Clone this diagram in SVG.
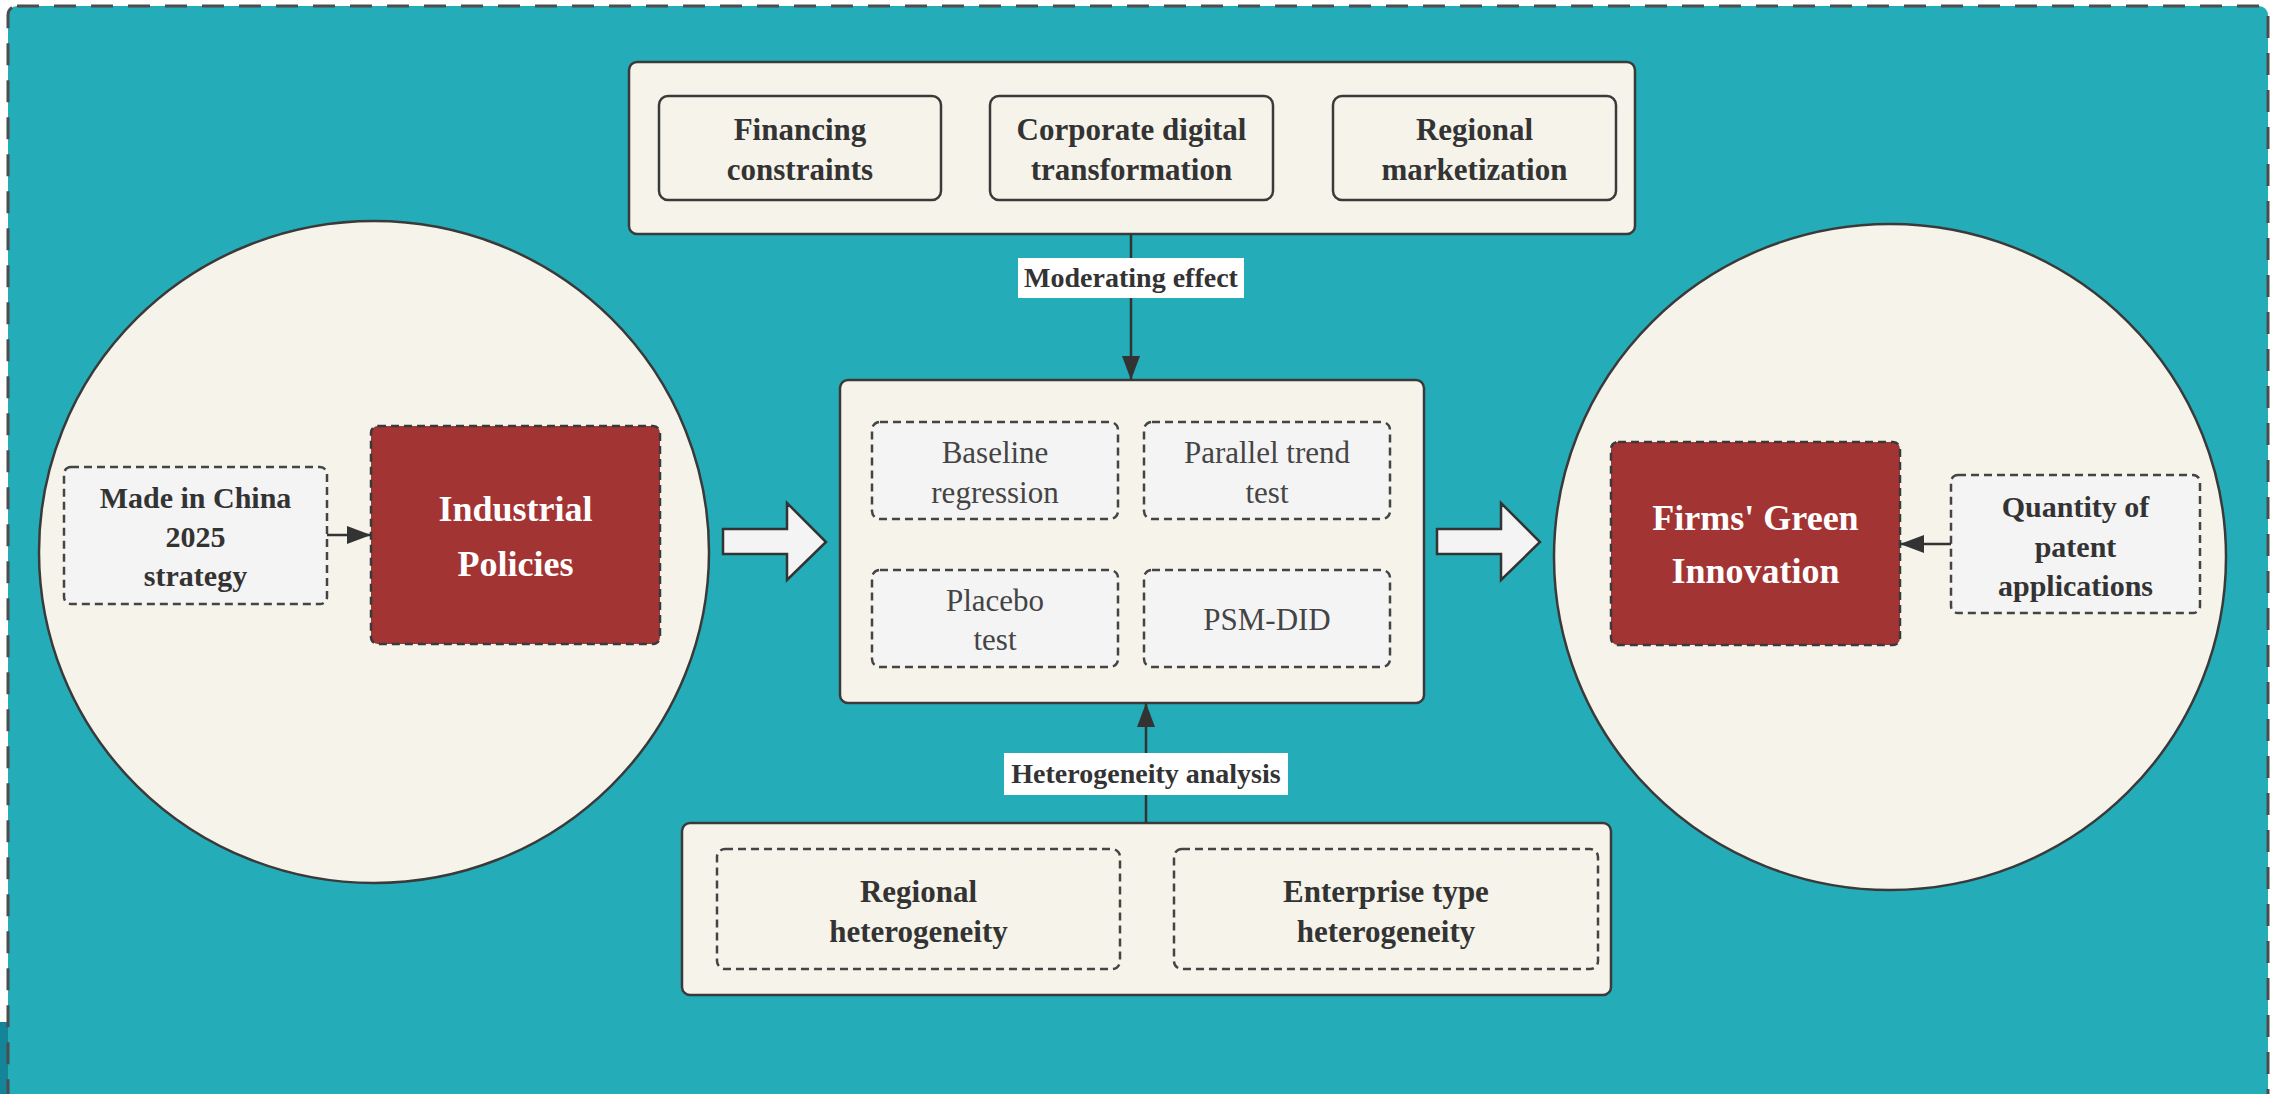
<svg xmlns="http://www.w3.org/2000/svg" width="2277" height="1094" viewBox="0 0 2277 1094">
<style>
.cream{fill:#f6f4ea;stroke:#3a3a3a;stroke-width:2.5}
.solid{fill:#f6f4ea;stroke:#3a3a3a;stroke-width:2.5}
.dgray{fill:#f4f4f4;stroke:#444;stroke-width:2.5;stroke-dasharray:8 5}
.dcream{fill:#f6f4ea;stroke:#444;stroke-width:2.5;stroke-dasharray:8 5}
.red{fill:#a33434;stroke:#3a3a3a;stroke-width:2.5;stroke-dasharray:8 5}
.t{font-family:"Liberation Serif","Times New Roman",serif;text-anchor:middle;fill:#333}
.b{font-weight:bold}
.w{fill:#ffffff;font-weight:bold;font-size:36px}
.f31{font-size:31px}
.f30{font-size:30px}
.f28{font-size:28px}
.reg{fill:#444;font-size:31px}
.conn{stroke:#333;stroke-width:2.5;fill:none}
.big{fill:#f4f4f4;stroke:#333;stroke-width:2.5;stroke-linejoin:miter}
</style>
<defs>
<marker id="ah" viewBox="0 0 24 18" refX="24" refY="9" markerWidth="24" markerHeight="18" markerUnits="userSpaceOnUse" orient="auto">
<path d="M0,0 L24,9 L0,18 Z" fill="#333"/>
</marker>
</defs>
<rect x="0" y="0" width="2277" height="1094" fill="#ffffff"/>
<rect x="0" y="1022" width="8" height="72" fill="#13849a"/>
<g id="frame">
<rect x="8" y="6" width="2260" height="1110" rx="9" fill="#24adb8" stroke="#4d4d4d" stroke-width="3" stroke-dasharray="22 15"/>
</g>

<g id="left-circle">
<ellipse cx="374" cy="552" rx="335" ry="331" class="cream"/>
</g>
<g id="right-circle">
<ellipse cx="1890" cy="557" rx="336" ry="333" class="cream"/>
</g>

<g id="moderators">
<rect x="629" y="62" width="1006" height="172" rx="8" class="solid"/>
<g id="financing">
<rect x="659" y="96" width="282" height="104" rx="9" class="solid"/>
<text class="t b f31" x="800" y="140">Financing</text>
<text class="t b f31" x="800" y="180">constraints</text>
</g>
<g id="digital">
<rect x="990" y="96" width="283" height="104" rx="9" class="solid"/>
<text class="t b f31" x="1131.5" y="140">Corporate digital</text>
<text class="t b f31" x="1131.5" y="180">transformation</text>
</g>
<g id="marketization">
<rect x="1333" y="96" width="283" height="104" rx="9" class="solid"/>
<text class="t b f31" x="1474.5" y="140">Regional</text>
<text class="t b f31" x="1474.5" y="180">marketization</text>
</g>
</g>

<g id="methods">
<rect x="840" y="380" width="584" height="323" rx="8" class="solid"/>
<g id="baseline">
<rect x="872" y="422" width="246" height="97" rx="8" class="dgray"/>
<text class="t reg" x="995" y="463">Baseline</text>
<text class="t reg" x="995" y="503">regression</text>
</g>
<g id="parallel">
<rect x="1144" y="422" width="246" height="97" rx="8" class="dgray"/>
<text class="t reg" x="1267" y="463">Parallel trend</text>
<text class="t reg" x="1267" y="503">test</text>
</g>
<g id="placebo">
<rect x="872" y="570" width="246" height="97" rx="8" class="dgray"/>
<text class="t reg" x="995" y="611">Placebo</text>
<text class="t reg" x="995" y="650">test</text>
</g>
<g id="psm">
<rect x="1144" y="570" width="246" height="97" rx="8" class="dgray"/>
<text class="t reg" x="1267" y="630">PSM-DID</text>
</g>
</g>

<g id="heterogeneity">
<rect x="682" y="823" width="929" height="172" rx="8" class="solid"/>
<g id="regional-het">
<rect x="717" y="849" width="403" height="120" rx="8" class="dcream"/>
<text class="t b f31" x="918.5" y="902">Regional</text>
<text class="t b f31" x="918.5" y="942">heterogeneity</text>
</g>
<g id="enterprise-het">
<rect x="1174" y="849" width="424" height="120" rx="8" class="dcream"/>
<text class="t b f31" x="1386" y="902">Enterprise type</text>
<text class="t b f31" x="1386" y="942">heterogeneity</text>
</g>
</g>

<g id="made-in-china">
<rect x="64" y="467" width="263" height="137" rx="7" class="dgray"/>
<text class="t b f30" x="195.5" y="508">Made in China</text>
<text class="t b f30" x="195.5" y="547">2025</text>
<text class="t b f30" x="195.5" y="586">strategy</text>
</g>
<g id="industrial-policies">
<rect x="371" y="426" width="289" height="218" rx="7" class="red"/>
<text class="t w" x="515.5" y="521">Industrial</text>
<text class="t w" x="515.5" y="576">Policies</text>
</g>
<g id="green-innovation">
<rect x="1611" y="442" width="289" height="203" rx="7" class="red"/>
<text class="t w" x="1755.5" y="530">Firms' Green</text>
<text class="t w" x="1755.5" y="583">Innovation</text>
</g>
<g id="patents">
<rect x="1951" y="475" width="249" height="138" rx="7" class="dgray"/>
<text class="t b f30" x="2075.5" y="517">Quantity of</text>
<text class="t b f30" x="2075.5" y="557">patent</text>
<text class="t b f30" x="2075.5" y="596">applications</text>
</g>

<g id="connectors">
<line class="conn" x1="1131" y1="234" x2="1131" y2="380" marker-end="url(#ah)"/>
<line class="conn" x1="1146" y1="823" x2="1146" y2="703" marker-end="url(#ah)"/>
<line class="conn" x1="327" y1="535" x2="371" y2="535" marker-end="url(#ah)"/>
<line class="conn" x1="1951" y1="544" x2="1900" y2="544" marker-end="url(#ah)"/>
<polygon class="big" points="723,529 787,529 787,503 826,542 787,580 787,554 723,554"/>
<polygon class="big" points="1437,529 1501,529 1501,503 1540,542 1501,580 1501,554 1437,554"/>
<rect x="1018" y="258" width="226" height="40" fill="#ffffff"/>
<text class="t b f28" x="1131" y="287">Moderating effect</text>
<rect x="1004" y="753" width="284" height="42" fill="#ffffff"/>
<text class="t b f28" x="1146" y="783">Heterogeneity analysis</text>
</g>
</svg>
